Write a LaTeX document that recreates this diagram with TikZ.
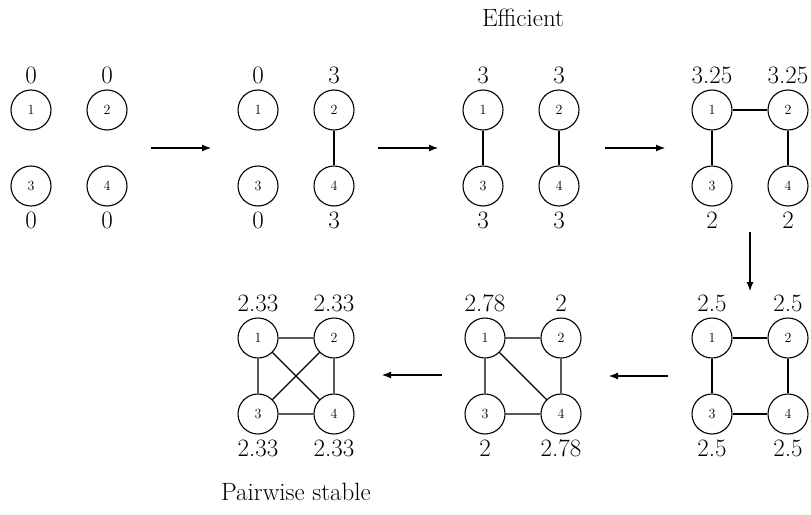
\documentclass[tikz,border=0pt]{standalone}
\usetikzlibrary{arrows.meta}
\tikzset{
  vtx/.style={circle,draw,line width=1.1pt,minimum size=40pt,inner sep=0pt,font=\fontsize{14}{16}\selectfont},
  pay/.style={font=\fontsize{25}{29}\selectfont,inner sep=0pt},
  edge/.style={line width=1.1pt},
  move/.style={line width=1.1pt,-{Latex[length=9pt,width=7pt]}},
  caption/.style={font=\fontsize{25}{29}\selectfont,inner sep=0pt}
}
% #1 prefix, #2 x of left column, #3 y of top row, #4-#7 payoffs of 1..4
\newcommand\fournet[7]{%
  \node[vtx] (#1a) at (#2,#3) {1};
  \node[vtx] (#1b) at (#2+76,#3) {2};
  \node[vtx] (#1c) at (#2,#3+76) {3};
  \node[vtx] (#1d) at (#2+76,#3+76) {4};
  \node[pay] (#1pa) at (#2,#3-35) {#4};
  \node[pay] (#1pb) at (#2+76,#3-35) {#5};
  \node[pay] (#1pc) at (#2,#3+110) {#6};
  \node[pay] (#1pd) at (#2+76,#3+110) {#7};
}
\begin{document}
\begin{tikzpicture}[x=1pt,y=-1pt]
\useasboundingbox (0,0) rectangle (811,514);

\fournet{p}{31}{110}{0}{0}{0}{0}
\fournet{q}{258}{110}{0}{3}{0}{3}
\fournet{r}{483}{110}{3}{3}{3}{3}
\fournet{s}{712}{110}{3.25}{3.25}{2}{2}
\fournet{t}{712}{338}{2.5}{2.5}{2.5}{2.5}
\fournet{u}{485}{338}{2.78}{2}{2}{2.78}
\fournet{v}{258}{338}{2.33}{2.33}{2.33}{2.33}

% links of each network
\draw[edge] (qb) -- (qd);
\draw[edge] (ra) -- (rc) (rb) -- (rd);
\draw[edge] (sa) -- (sb) (sa) -- (sc) (sb) -- (sd);
\draw[edge] (ta) -- (tb) (ta) -- (tc) (tb) -- (td) (tc) -- (td);
\draw[edge] (ua) -- (ub) (ua) -- (uc) (ua) -- (ud) (ub) -- (ud) (uc) -- (ud);
\draw[edge] (va) -- (vb) (va) -- (vc) (va) -- (vd) (vb) -- (vc) (vb) -- (vd) (vc) -- (vd);

% transitions between networks
\coordinate (m1s) at (151,148); \coordinate (m1e) at (211,148);
\coordinate (m2s) at (378,148); \coordinate (m2e) at (438,148);
\coordinate (m3s) at (605,148); \coordinate (m3e) at (665,148);
\coordinate (m4s) at (750,232); \coordinate (m4e) at (750,291);
\coordinate (m5s) at (668,376); \coordinate (m5e) at (609,376);
\coordinate (m6s) at (442,375); \coordinate (m6e) at (382,375);
\draw[move] (m1s) -- (m1e);
\draw[move] (m2s) -- (m2e);
\draw[move] (m3s) -- (m3e);
\draw[move] (m4s) -- (m4e);
\draw[move] (m5s) -- (m5e);
\draw[move] (m6s) -- (m6e);

\node[caption] (eff) at (523,18) {Efficient};
\node[caption] (pws) at (296,492) {Pairwise stable};
\end{tikzpicture}
\end{document}
